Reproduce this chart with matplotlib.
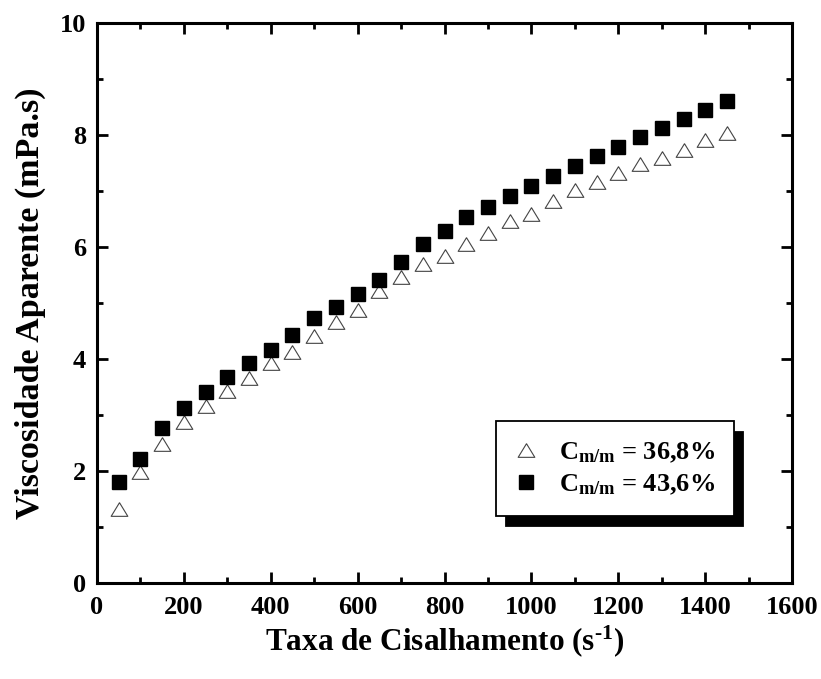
import numpy as np
import matplotlib.pyplot as plt
from matplotlib.ticker import MultipleLocator

plt.rcParams['font.family'] = 'Liberation Serif'
plt.rcParams['font.weight'] = 'bold'
plt.rcParams['axes.labelweight'] = 'bold'
plt.rcParams['mathtext.fontset'] = 'custom'
plt.rcParams['mathtext.rm'] = 'Liberation Serif:bold'
plt.rcParams['mathtext.bf'] = 'Liberation Serif:bold'
plt.rcParams['mathtext.it'] = 'Liberation Serif:bold'

# shear rate (1/s)
shear_rate = [50, 100, 150, 200, 250, 300, 350, 400, 450, 500, 550, 600, 650, 700, 750,
              800, 850, 900, 950, 1000, 1050, 1100, 1150, 1200, 1250, 1300, 1350, 1400, 1450]

# apparent viscosity (mPa.s)
visc_368 = [1.33, 1.99, 2.49, 2.88, 3.17, 3.43, 3.67, 3.94, 4.13, 4.42, 4.67, 4.87, 5.21, 5.47, 5.70,
            5.85, 6.05, 6.26, 6.46, 6.60, 6.82, 7.02, 7.17, 7.32, 7.48, 7.59, 7.74, 7.92, 8.04]
visc_436 = [1.80, 2.21, 2.78, 3.13, 3.42, 3.69, 3.93, 4.17, 4.43, 4.74, 4.93, 5.16, 5.41, 5.74, 6.05,
            6.29, 6.54, 6.72, 6.92, 7.10, 7.27, 7.45, 7.63, 7.79, 7.97, 8.13, 8.29, 8.45, 8.61]

labels = [r'C$_{\mathbf{m/m}}$ = 36,8%', r'C$_{\mathbf{m/m}}$ = 43,6%']

tri = [(0, 0.82), (-1, -0.82), (1, -0.82), (0, 0.82)]

fig = plt.figure(figsize=(8.21, 6.79), dpi=100)
ax = fig.add_axes([0.118, 0.141, 0.847, 0.825])

ax.plot(shear_rate, visc_368, linestyle='none', marker=tri, markersize=12,
        markerfacecolor='white', markeredgecolor='#444444', markeredgewidth=0.8, label=labels[0])
ax.plot(shear_rate, visc_436, linestyle='none', marker='s', markersize=9.5,
        color='black', label=labels[1])

ax.set_xlim(0, 1600)
ax.set_ylim(0, 10)
ax.xaxis.set_major_locator(MultipleLocator(200))
ax.xaxis.set_minor_locator(MultipleLocator(100))
ax.yaxis.set_major_locator(MultipleLocator(2))
ax.yaxis.set_minor_locator(MultipleLocator(1))
ax.tick_params(which='both', direction='in', top=True, right=True, width=2)
ax.tick_params(which='major', length=8, labelsize=19)
ax.tick_params(axis='x', which='major', pad=9)
ax.tick_params(axis='y', which='major', pad=8)
ax.tick_params(which='minor', length=4)
for s in ax.spines.values():
    s.set_linewidth(2.2)

ax.set_xlabel(r'Taxa de Cisalhamento (s$^{\text{-1}}$)', fontsize=22.5, labelpad=3)
ax.set_ylabel('Viscosidade Aparente (mPa.s)', fontsize=24.5, labelpad=10)

leg = ax.legend(loc='upper left', bbox_to_anchor=(0.574, 0.289),
                fontsize=19, fancybox=False, edgecolor='black', framealpha=1,
                borderpad=0.72, handlelength=0.8, handletextpad=0.85, labelspacing=0.3,
                borderaxespad=0,
                shadow={'ox': 7, 'oy': -7.5, 'facecolor': 'black', 'edgecolor': 'black', 'alpha': 1})
leg.get_frame().set_linewidth(1.3)

fig.savefig('out.png', dpi=100)
